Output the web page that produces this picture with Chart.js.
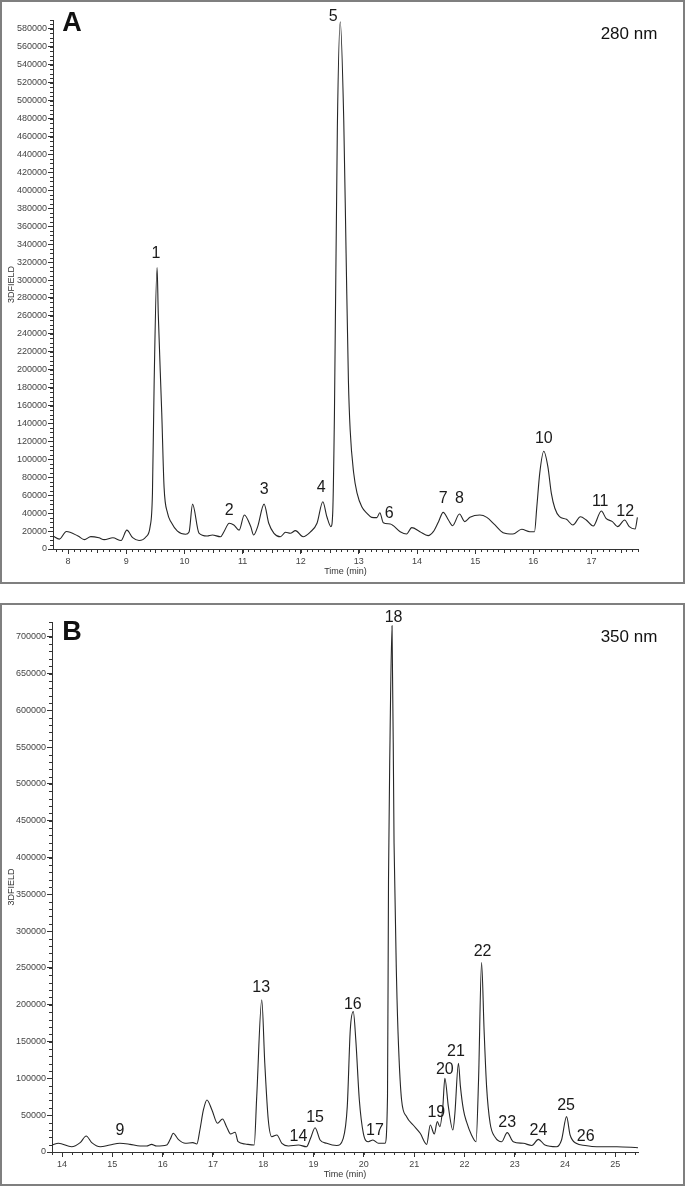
<!DOCTYPE html>
<html>
<head>
<meta charset="utf-8">
<title>HPLC chromatograms</title>
<script src="https://cdn.jsdelivr.net/npm/chart.js@4.4.1/dist/chart.umd.min.js"></script>
<style>
  html, body { margin: 0; padding: 0; background: #fff; }
  body { position: relative; width: 685px; height: 1186px; overflow: hidden; }
  .frame { position: absolute; left: 0; width: 685px; box-sizing: border-box; border: 2px solid #7f7f7f; }
  #frameA { top: 0; height: 584px; }
  #frameB { top: 603px; height: 583px; }
  canvas { position: absolute; left: 0; }
  #chartA { top: 0; }
  #chartB { top: 603px; }
</style>
</head>
<body>
<div class="frame" id="frameA"></div>
<div class="frame" id="frameB"></div>
<canvas id="chartA" width="685" height="582"></canvas>
<canvas id="chartB" width="685" height="583"></canvas>
<script>
/* ============================================
   Two DAD chromatograms (280 nm / 350 nm)
   ============================================ */

/* ---- Panel A : 280 nm ---- */
const timesA = [
  7.74, 7.85, 7.97, 8.17, 8.28, 8.39, 8.53, 8.62, 8.77, 8.91,
  9.01, 9.11, 9.22, 9.34, 9.41, 9.45, 9.48, 9.53, 9.55, 9.61,
  9.65, 9.71, 9.77, 9.88, 10.02, 10.08, 10.14, 10.25, 10.39, 10.48,
  10.62, 10.68, 10.77, 10.85, 10.94, 11.03, 11.14, 11.19, 11.26, 11.37,
  11.45, 11.54, 11.65, 11.74, 11.82, 11.91, 12.04, 12.17, 12.28, 12.38,
  12.45, 12.52, 12.55, 12.58, 12.63, 12.68, 12.74, 12.78, 12.82, 12.85,
  12.91, 12.97, 13.05, 13.14, 13.22, 13.31, 13.36, 13.42, 13.54, 13.71,
  13.82, 13.91, 14.05, 14.19, 14.28, 14.37, 14.45, 14.54, 14.61, 14.73,
  14.82, 14.91, 15.08, 15.2, 15.34, 15.48, 15.65, 15.8, 15.94, 16.02,
  16.06, 16.11, 16.18, 16.25, 16.31, 16.37, 16.45, 16.57, 16.68, 16.81,
  16.91, 17.03, 17.17, 17.25, 17.36, 17.45, 17.57, 17.65, 17.75, 17.79
];
const signalA = [
  14500, 11000, 19500, 14500, 10500, 13800, 12500, 10500, 12500, 9500,
  21000, 12600, 9500, 13700, 25000, 62000, 188000, 314000, 263000, 152000,
  69000, 40000, 30000, 20000, 16500, 19000, 50000, 17800, 14500, 15600,
  13700, 19300, 28700, 26800, 21000, 38000, 25000, 15600, 25000, 50000,
  28700, 17500, 13700, 18600, 17500, 20500, 13700, 19300, 28700, 52700,
  36000, 24900, 40000, 152000, 470000, 588000, 478000, 330000, 188000, 133000,
  85000, 62000, 47000, 39800, 35300, 35000, 40500, 29300, 27900, 19300,
  16700, 23800, 19300, 14900, 19300, 30500, 40900, 32300, 26000, 39000,
  30500, 35300, 37900, 35300, 26800, 18200, 16700, 22000, 19300, 19300,
  47000, 84400, 109000, 91800, 62000, 45400, 36000, 33100, 26800, 36000,
  32300, 25600, 42400, 34200, 30500, 24900, 32300, 24900, 22300, 35300
];
const xTicksA = [8, 9, 10, 11, 12, 13, 14, 15, 16, 17];
const yTicksA = [0, 20000, 40000, 60000, 80000, 100000, 120000, 140000, 160000, 180000,
  200000, 220000, 240000, 260000, 280000, 300000, 320000, 340000, 360000, 380000,
  400000, 420000, 440000, 460000, 480000, 500000, 520000, 540000, 560000, 580000];
const peakNamesA = ['1', '2', '3', '4', '5', '6', '7', '8', '10', '11', '12'];
const peakTimesA = [9.51, 10.77, 11.37, 12.35, 12.56, 13.52, 14.45, 14.73, 16.18, 17.15, 17.58];
const peakLabelYA = [331000, 44000, 67700, 69500, 595600, 41600, 58300, 57700, 124600, 54700, 43500];

/* ---- Panel B : 350 nm ---- */
const timesB = [
  13.8, 13.93, 14.19, 14.36, 14.48, 14.59, 14.76, 14.95, 15.15, 15.35,
  15.55, 15.68, 15.78, 15.88, 16.08, 16.15, 16.21, 16.31, 16.45, 16.6,
  16.68, 16.74, 16.81, 16.88, 16.98, 17.09, 17.19, 17.27, 17.35, 17.44,
  17.5, 17.64, 17.82, 17.87, 17.97, 18.03, 18.1, 18.17, 18.27, 18.37,
  18.5, 18.7, 18.86, 18.94, 19.03, 19.13, 19.26, 19.46, 19.59, 19.67,
  19.73, 19.79, 19.84, 19.91, 19.99, 20.09, 20.18, 20.29, 20.42, 20.47,
  20.49, 20.52, 20.56, 20.6, 20.65, 20.69, 20.75, 20.85, 20.98, 21.12,
  21.25, 21.32, 21.4, 21.46, 21.51, 21.57, 21.61, 21.68, 21.77, 21.81,
  21.88, 21.92, 21.98, 22.04, 22.14, 22.23, 22.28, 22.34, 22.39, 22.44,
  22.51, 22.61, 22.74, 22.85, 22.97, 23.17, 23.34, 23.47, 23.6, 23.83,
  23.93, 24.03, 24.1, 24.22, 24.4, 24.63, 25.03, 25.45
];
const signalB = [
  9500, 11800, 7200, 12700, 21700, 12700, 7200, 9500, 11800, 10400,
  8200, 8200, 10400, 8200, 9500, 17200, 25400, 17200, 11800, 12700,
  10900, 29900, 57100, 70700, 57100, 39000, 44900, 34400, 24500, 26800,
  14000, 10900, 9500, 75200, 206600, 121000, 43500, 20800, 23100, 11800,
  8200, 9500, 7200, 18600, 33000, 16300, 11800, 8800, 18600, 61600,
  166000, 190700, 152000, 70700, 25400, 14000, 16300, 11800, 11800, 75000,
  370000, 560000, 715000, 420000, 233800, 143000, 70700, 48000, 36700, 25400,
  10400, 36700, 24500, 41200, 34400, 61600, 100200, 61600, 29900, 52600,
  120600, 88800, 57100, 41200, 23100, 14000, 97900, 257300, 165800, 88800,
  39000, 20000, 14000, 26300, 14000, 11800, 8800, 17200, 9500, 7200,
  16300, 48000, 23100, 11800, 8800, 7200, 7200, 5800
];
const xTicksB = [14, 15, 16, 17, 18, 19, 20, 21, 22, 23, 24, 25];
const yTicksB = [0, 50000, 100000, 150000, 200000, 250000, 300000, 350000,
  400000, 450000, 500000, 550000, 600000, 650000, 700000];
const peakNamesB = ['9', '13', '14', '15', '16', '17', '18', '19', '20', '21', '22', '23', '24', '25', '26'];
const peakTimesB = [15.15, 17.96, 18.70, 19.03, 19.78, 20.22, 20.59, 21.44, 21.61, 21.83, 22.36, 22.85, 23.47, 24.02, 24.41];
const peakLabelYB = [30900, 224700, 23100, 48900, 202100, 30900, 728500, 56100, 113800, 137700, 274600, 42500, 30900, 65200, 23100];

const FONT = "'Liberation Sans', Arial, sans-serif";

/** minor ticks, panel letter, wavelength, axis titles and peak numbers */
const chromDecor = {
    id: 'chromDecor',
    afterDraw(chart, args, o) {
        const { ctx, chartArea: a, scales: { x, y } } = chart;
        ctx.save();
        ctx.strokeStyle = '#333';
        ctx.lineWidth = 1;
        ctx.beginPath();
        for (let i = Math.ceil(o.xMin / o.xMinor - 1e-6); i * o.xMinor <= o.xMax + 1e-6; i++) {
            const v = i * o.xMinor;
            const px = Math.round(x.getPixelForValue(v)) + 0.5;
            const half = o.xHalf && Math.abs(v * 2 - Math.round(v * 2)) < 1e-6;
            ctx.moveTo(px, a.bottom);
            ctx.lineTo(px, a.bottom + (half ? 4 : 3));
        }
        for (let i = 0; i * o.yMinor <= o.yMax + 1e-6; i++) {
            const py = Math.round(y.getPixelForValue(i * o.yMinor)) + 0.5;
            ctx.moveTo(a.left - 3, py);
            ctx.lineTo(a.left, py);
        }
        ctx.stroke();

        ctx.fillStyle = '#111';
        ctx.textAlign = 'center';
        ctx.textBaseline = 'middle';
        ctx.font = `bold 27px ${FONT}`;
        ctx.fillText(o.letter, o.letterX, o.letterY);
        ctx.font = `17px ${FONT}`;
        ctx.fillText(o.wave, 629, 34);

        ctx.fillStyle = '#333';
        ctx.font = `9px ${FONT}`;
        ctx.fillText('Time (min)', (a.left + a.right) / 2, a.bottom + 23);
        ctx.save();
        ctx.translate(12, (a.top + a.bottom) / 2);
        ctx.rotate(-Math.PI / 2);
        ctx.fillText('3DFIELD', 0, 0);
        ctx.restore();

        ctx.fillStyle = '#1a1a1a';
        ctx.font = `16px ${FONT}`;
        ctx.textBaseline = 'alphabetic';
        o.names.forEach((n, i) => {
            ctx.fillText(n, x.getPixelForValue(o.times[i]), y.getPixelForValue(o.labelY[i]) + 5.8);
        });
        ctx.restore();
    }
};

/** one chromatogram panel */
function createChromatogram(id, times, signal, opts) {
    const canvas = document.getElementById(id);
    return new Chart(canvas.getContext('2d'), {
        type: 'line',
        data: {
            datasets: [{
                data: times.map((t, i) => ({ x: t, y: signal[i] })),
                borderColor: '#262626',
                borderWidth: 1.1,
                pointRadius: 0,
                fill: false,
                cubicInterpolationMode: 'monotone'
            }]
        },
        options: {
            responsive: false,
            animation: false,
            events: [],
            layout: { padding: { left: 0, right: 47, top: opts.padTop, bottom: 0 } },
            plugins: {
                legend: { display: false },
                tooltip: { enabled: false },
                chromDecor: opts
            },
            scales: {
                x: {
                    type: 'linear',
                    min: opts.xMin,
                    max: opts.xMax,
                    afterBuildTicks: s => { s.ticks = opts.xTicks.map(v => ({ value: v })); },
                    afterFit: s => { s.height = opts.xAxisH; },
                    grid: { drawOnChartArea: false, drawTicks: true, tickLength: 5, tickColor: '#333' },
                    border: { display: true, color: '#333', width: 1 },
                    ticks: {
                        font: { family: FONT, size: 9 }, color: '#444', padding: 2,
                        maxRotation: 0, autoSkip: false, callback: v => String(v)
                    }
                },
                y: {
                    type: 'linear',
                    min: 0,
                    max: opts.yMax,
                    afterBuildTicks: s => { s.ticks = opts.yTicks.map(v => ({ value: v })); },
                    afterFit: s => { s.width = opts.yAxisW; },
                    grid: { drawOnChartArea: false, drawTicks: true, tickLength: 5, tickColor: '#333' },
                    border: { display: true, color: '#333', width: 1 },
                    ticks: {
                        font: { family: FONT, size: 9 }, color: '#444', padding: 1,
                        autoSkip: false, callback: v => String(v)
                    }
                }
            }
        },
        plugins: [chromDecor]
    });
}

createChromatogram('chartA', timesA, signalA, {
    xMin: 7.74, xMax: 17.8, xTicks: xTicksA, xMinor: 0.1, xHalf: true,
    yMax: 590000, yTicks: yTicksA, yMinor: 5000,
    padTop: 20, xAxisH: 33, yAxisW: 53,
    letter: 'A', letterX: 72, letterY: 24, wave: '280 nm',
    names: peakNamesA, times: peakTimesA, labelY: peakLabelYA
});

createChromatogram('chartB', timesB, signalB, {
    xMin: 13.8, xMax: 25.45, xTicks: xTicksB, xMinor: 0.2, xHalf: false,
    yMax: 720000, yTicks: yTicksB, yMinor: 10000,
    padTop: 19, xAxisH: 34, yAxisW: 52,
    letter: 'B', letterX: 72, letterY: 30, wave: '350 nm',
    names: peakNamesB, times: peakTimesB, labelY: peakLabelYB
});
</script>
</body>
</html>
